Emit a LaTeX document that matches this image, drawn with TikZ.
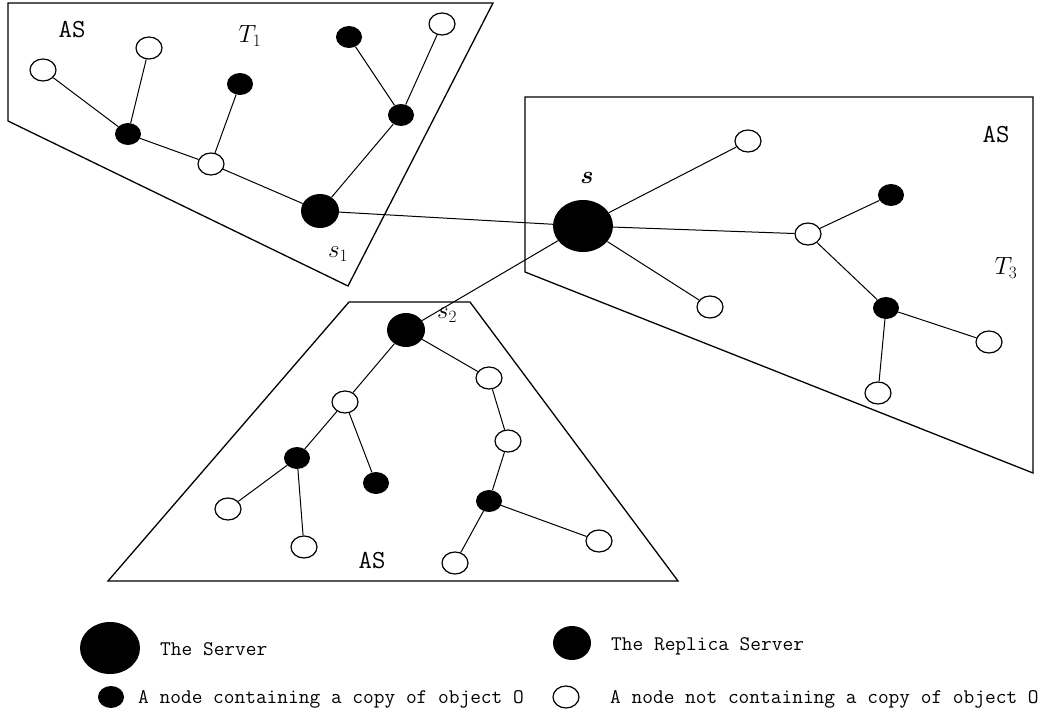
\documentclass[tikz,border=0pt]{standalone}
\usepackage{amsmath}
\usepackage{tikz}
\usetikzlibrary{shapes.geometric}

\begin{document}
\begin{tikzpicture}[x=1pt,y=-1pt,
  server/.style={ellipse,fill=black,minimum width=60pt,minimum height=52pt,inner sep=0pt},
  replica/.style={ellipse,fill=black,minimum width=38pt,minimum height=34pt,inner sep=0pt},
  hasobj/.style={ellipse,fill=black,minimum width=26pt,minimum height=22pt,inner sep=0pt},
  noobj/.style={ellipse,draw=black,line width=1.2pt,fill=white,minimum width=26pt,minimum height=22pt,inner sep=0pt},
  region/.style={draw=black,line width=1.3pt},
  tag/.style={font=\fontsize{26}{28}\selectfont\ttfamily},
  lbl/.style={font=\fontsize{24}{26}\selectfont},
  legtext/.style={anchor=base west,font=\fontsize{20.8}{22}\selectfont\ttfamily,inner sep=0pt}]
\useasboundingbox (0,0) rectangle (1042,719);

% the three AS regions
\draw[region] (8,3) -- (493,3) -- (348,286) -- (8,121) -- cycle;
\draw[region] (525,97) -- (1033,97) -- (1033,473) -- (525,272) -- cycle;
\draw[region] (349,302) -- (470,302) -- (678,581) -- (108,581) -- cycle;

% tree T1
\node[replica] (s1) at (320,211) {};
\node[noobj] (t1a) at (43,70) {};
\node[noobj] (t1b) at (149,48) {};
\node[hasobj] (t1c) at (128,134) {};
\node[hasobj] (t1d) at (240,84) {};
\node[noobj] (t1e) at (211,164) {};
\node[hasobj] (t1f) at (349,37) {};
\node[hasobj] (t1g) at (401,115) {};
\node[noobj] (t1h) at (442,24) {};

% tree T3 with the server
\node[server] (srv) at (583,226) {};
\node[noobj] (t3a) at (748,141) {};
\node[noobj] (t3b) at (808,234) {};
\node[hasobj] (t3c) at (891,195) {};
\node[hasobj] (t3d) at (886,308) {};
\node[noobj] (t3e) at (989,342) {};
\node[noobj] (t3f) at (878,393) {};
\node[noobj] (t3g) at (710,307) {};

% tree T2
\node[replica] (s2) at (406,330) {};
\node[noobj] (t2a) at (489,378) {};
\node[noobj] (t2b) at (345,402) {};
\node[noobj] (t2c) at (508,441) {};
\node[hasobj] (t2d) at (297,458) {};
\node[hasobj] (t2e) at (376,483) {};
\node[hasobj] (t2f) at (489,501) {};
\node[noobj] (t2g) at (228,509) {};
\node[noobj] (t2h) at (304,547) {};
\node[noobj] (t2i) at (599,541) {};
\node[noobj] (t2j) at (455,563) {};

\begin{scope}[every edge/.style={draw=black,line width=1pt}]
    \path (t1a) edge (t1c);
    \path (t1b) edge (t1c);
    \path (t1c) edge (t1e);
    \path (t1d) edge (t1e);
    \path (t1e) edge (s1);
    \path (s1) edge (t1g);
    \path (t1f) edge (t1g);
    \path (t1g) edge (t1h);
    \path (s1) edge (srv);
    \path (srv) edge (s2);
    \path (srv) edge (t3a);
    \path (srv) edge (t3b);
    \path (srv) edge (t3g);
    \path (t3b) edge (t3c);
    \path (t3b) edge (t3d);
    \path (t3d) edge (t3e);
    \path (t3d) edge (t3f);
    \path (s2) edge (t2a);
    \path (s2) edge (t2b);
    \path (t2b) edge (t2d);
    \path (t2b) edge (t2e);
    \path (t2d) edge (t2g);
    \path (t2d) edge (t2h);
    \path (t2a) edge (t2c);
    \path (t2c) edge (t2f);
    \path (t2f) edge (t2i);
    \path (t2f) edge (t2j);
\end{scope}

% labels
\node[tag] (as1) at (72,30) {AS};
\node[tag] (as3) at (996,135) {AS};
\node[tag] (as2) at (372,561) {AS};
\node[lbl] (tone) at (250,36) {$T_1$};
\node[lbl] (tthree) at (1006,268) {$T_3$};
\node[lbl] (lsone) at (338,254) {$s_1$};
\node[lbl] (lstwo) at (447,315) {$s_2$};
\node[lbl] (lsrv) at (587,178) {$\boldsymbol{s}$};

% legend
\node[server] (legsrv) at (110,648) {};
\node[legtext] (legsrvtext) at (160,655) {The Server};
\node[replica] (legrep) at (572,643) {};
\node[legtext] (legreptext) at (611,650) {The Replica Server};
\node[hasobj] (leghas) at (111,697) {};
\node[legtext] (leghastext) at (138,703) {A node containing a copy of object O};
\node[noobj] (legno) at (566,697) {};
\node[legtext] (legnotext) at (610,703) {A node not containing a copy of object O};
\end{tikzpicture}
\end{document}
